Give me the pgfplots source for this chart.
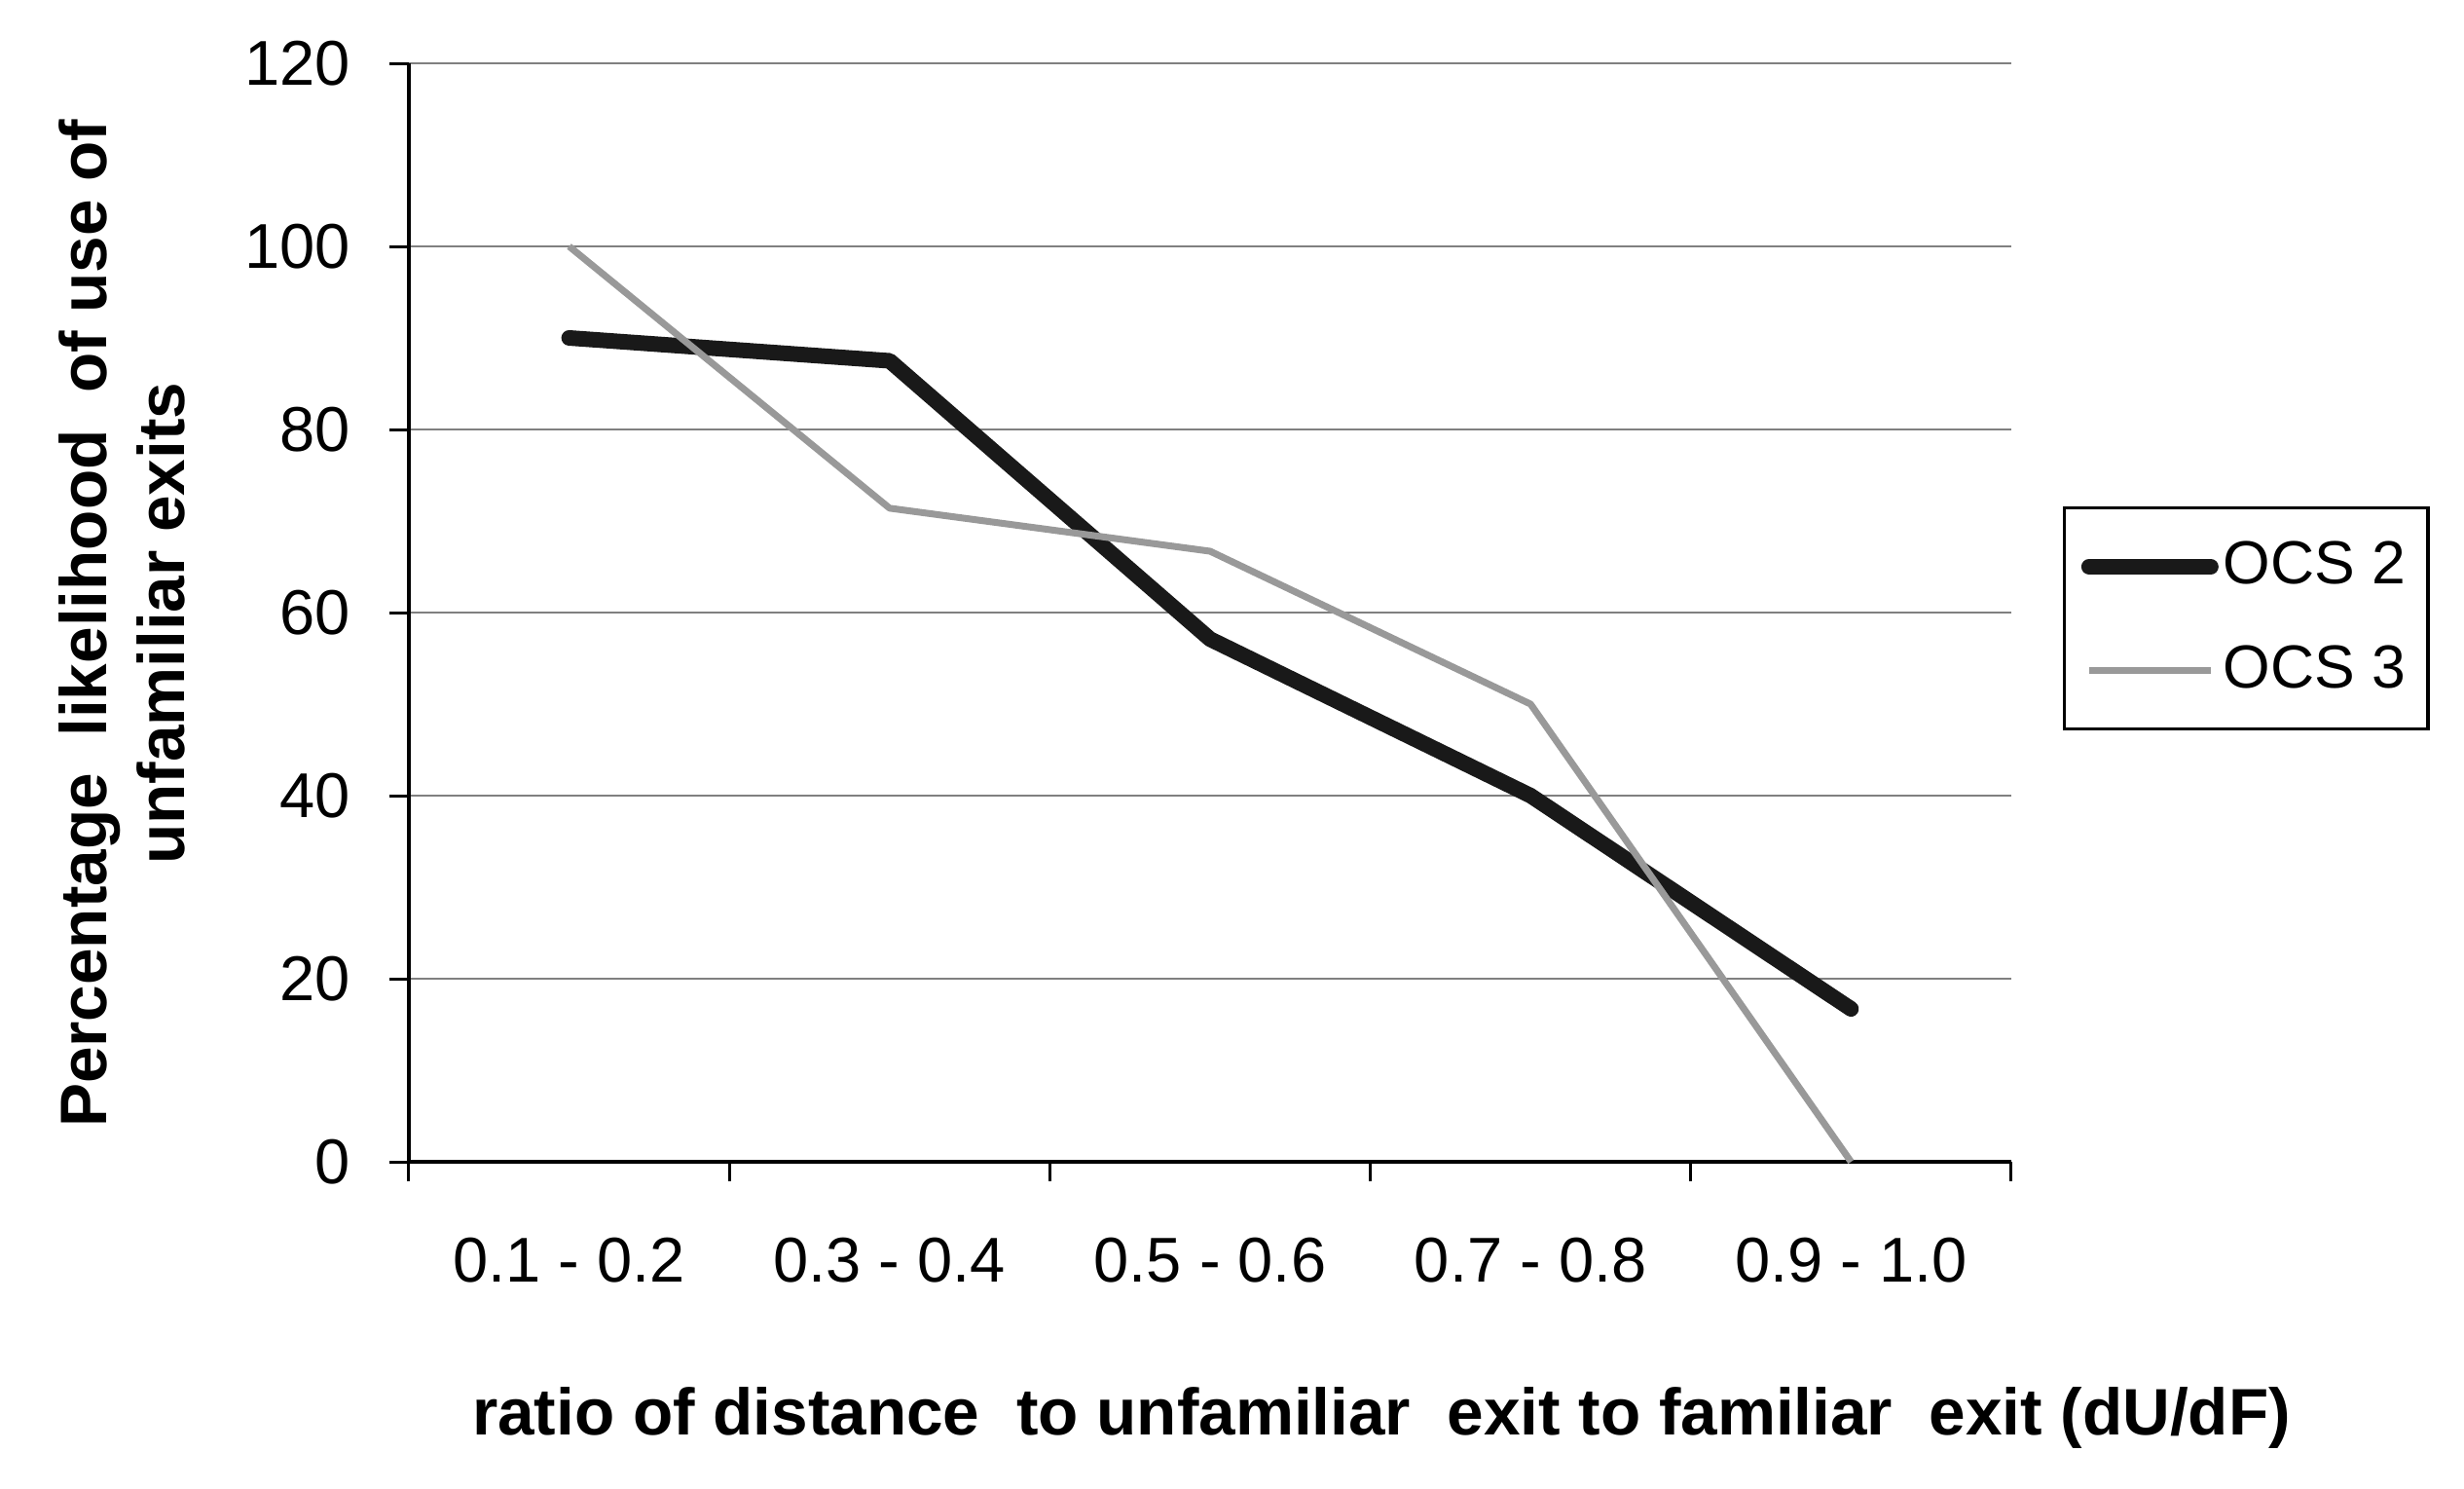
\documentclass[border=0pt]{standalone}
\usepackage{fontspec}
\setmainfont{Liberation Sans}
\usepackage{pgfplots}
\pgfplotsset{compat=1.18}
\definecolor{gridgray}{HTML}{808080}
\definecolor{ocsgray}{HTML}{999999}
\begin{document}
\begin{tikzpicture}
\begin{axis}[
  at={(0,0)}, anchor=south west,
  scale only axis,
  width=329.2pt, height=225.6pt,
  xmin=0, xmax=5, ymin=0, ymax=120,
  axis x line*=bottom, axis y line*=left,
  axis line style={-, line width=0.7pt, black},
  xtick={0.5,1.5,2.5,3.5,4.5},
  xticklabels={0.1 - 0.2, 0.3 - 0.4, 0.5 - 0.6, 0.7 - 0.8, 0.9 - 1.0},
  major x tick style={draw=none},
  minor xtick={0,1,2,3,4,5},
  minor x tick style={black, line width=0.6pt},
  ytick={0,20,...,120},
  y tick style={black, line width=0.6pt},
  tick align=outside,
  major tick length=4pt, minor tick length=4pt,
  ymajorgrids, grid style={gridgray, line width=0.55pt},
  tick label style={font=\fontsize{13}{15}\selectfont},
  xticklabel style={yshift=-8pt},
  yticklabel style={xshift=-4.5pt},
  /pgf/number format/assume math mode=true,
  xlabel={\bfseries ratio of distance~ to unfamiliar~ exit to familiar~ exit (dU/dF)},
  xlabel style={font=\fontsize{13.5}{16}\selectfont, at={(axis description cs:0.607,0)}, anchor=center, yshift=-52.6pt},
  ylabel={\bfseries Percentage~ likelihood~ of use of\\ \bfseries unfamiliar exits},
  ylabel style={font=\fontsize{13.5}{16}\selectfont, align=center, at={(axis description cs:0,0.49)}, anchor=center, yshift=59pt},
  legend style={at={(1.032,0.597)}, anchor=north west, draw=black, line width=0.7pt,
    font=\fontsize{12.5}{14}\selectfont, inner xsep=3.5pt, inner ysep=5pt, row sep=7pt,
    nodes={inner xsep=1pt}},
  legend cell align=left,
  legend image code/.code={\draw[#1] (0pt,0pt) -- (25pt,0pt);},
  clip=false,
]
\addplot[black!90, line width=3.2pt, line join=round, line cap=round] coordinates {
  (0.5,90) (1.5,87.5) (2.5,57.1) (3.5,40) (4.5,16.7)
};
\addlegendentry{OCS 2}
\addplot[ocsgray, line width=1.4pt, line join=round] coordinates {
  (0.5,100) (1.5,71.4) (2.5,66.7) (3.5,50) (4.5,0)
};
\addlegendentry{OCS 3}
\end{axis}
\path[use as bounding box] (-84pt,-67pt) rectangle (422.2pt,238.6pt);
\end{tikzpicture}
\end{document}
